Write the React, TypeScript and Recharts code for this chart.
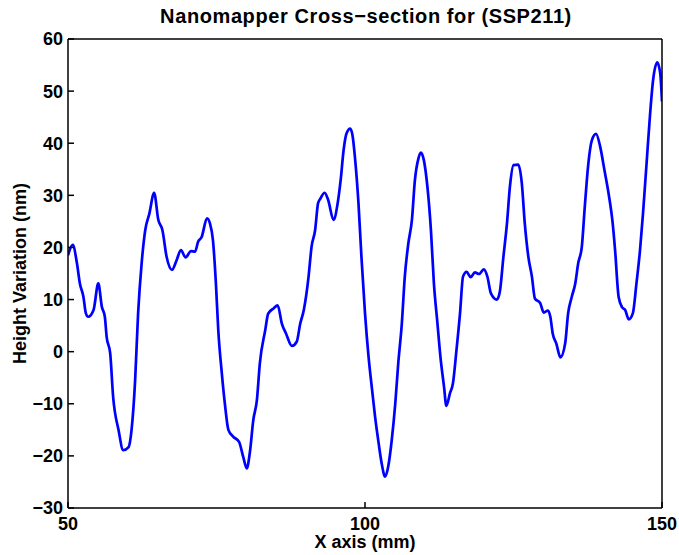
import { LineChart, Line, XAxis, YAxis } from "recharts"

// cross-section profile
const xPositions = [
  50, 50.8, 51.5, 52, 52.6, 53, 53.4, 54.3, 55.1, 55.7, 56.2, 56.5, 57.1, 57.6, 58.5, 59.3,
  60.2, 60.7, 61.3, 61.8, 62.4, 63, 63.7, 64.5, 65.2, 65.9, 66.6, 67.5, 68.3, 69, 69.8,
  70.7, 71.4, 71.9, 72.5, 73.4, 73.9, 74.4, 74.9, 75.3, 75.9, 76.4, 77, 77.8, 78.8, 79.5,
  80.1, 80.6, 81.2, 81.8, 82.3, 83.2, 83.7, 84.6, 85.3, 86, 86.7, 87.7, 88.5, 89.1, 89.7,
  90.5, 91, 91.6, 92.1, 92.5, 93.2, 93.8, 94.7, 95.4, 95.9, 96.4, 96.9, 97.5, 97.9, 98.3,
  98.9, 99.4, 100, 100.6, 101.2, 101.7, 102.3, 102.8, 103.4, 103.9, 104.5, 105.1, 105.6,
  106.2, 106.7, 107.3, 107.9, 108.4, 109, 109.4, 109.9, 110.5, 111.1, 111.6, 112.2, 112.7,
  113.3, 113.7, 114.3, 114.8, 115.4, 116, 116.5, 117.1, 117.8, 118.5, 119.2, 120, 120.6,
  121.2, 122.2, 122.7, 123.3, 123.9, 124.4, 125, 125.8, 126.4, 126.9, 127.5, 128.1, 128.6,
  129.5, 130.1, 130.8, 131.2, 131.6, 132.2, 132.9, 133.7, 134.2, 134.8, 135.4, 135.9, 136.5,
  137, 137.6, 138.2, 138.9, 139.6, 140.3, 141, 141.7, 142.1, 142.7, 143.3, 143.8, 144.4,
  145.1, 145.7, 146.3, 146.8, 147.4, 148, 148.5, 149.2, 149.7, 150,
]

const heights = [
  18.5, 20.5, 17, 13.1, 10.5, 7.4, 6.7, 8, 13.1, 8.6, 6.7, 2.9, -0.3, -8.7, -15, -18.9,
  -18.3, -15, -5.5, 7.3, 17, 23.3, 26.5, 30.5, 25.3, 23.3, 18.2, 15.7, 17.6, 19.5, 18.1,
  19.3, 19.2, 21.1, 22, 25.6, 24.6, 21.4, 13.1, 4.1, -4.2, -9.9, -15, -16.3, -17.3, -20.2,
  -22.4, -19.5, -13.1, -9.3, -2.2, 4.1, 7.3, 8.3, 8.9, 5.4, 3.5, 1.1, 1.9, 5.4, 8,
  14.4, 20.1, 23.3, 28.5, 29.4, 30.5, 29.1, 25.3, 28.5, 32.9, 38.7, 41.9, 42.8, 41.5, 37.4,
  28.5, 18.2, 7.4, -1, -7.4, -12.5, -17.6, -21.4, -24, -22.1, -17, -9.9, -2.2,
  5.4, 14.4, 20.8, 25.3, 32.9, 37.1, 38.2, 36.8, 31.7, 23.3, 13.1, 5.4, -1,
  -6.7, -10.4, -8, -6.1, 0.3, 7.4, 14.4, 15.3, 14.3, 15.2, 14.9, 15.8, 14.4,
  11.2, 10, 11.5, 18.2, 24.6, 31.7, 35.8, 35.9, 32.3, 24.6, 18.2, 14.4, 10.2,
  9.3, 7.5, 7.9, 6.7, 3.5, 1.6, -1.1, 1.6, 7.4, 10.5, 13.1, 17, 20.1,
  27.8, 36.1, 40.6, 41.8, 39.3, 34.9, 30.4, 24.6, 19.5, 10.5, 8.5, 8, 6.2,
  7.4, 13.1, 19.5, 26.5, 36.1, 45.7, 52.1, 55.5, 53.4, 48,
]

const xTicks = [50, 100, 150]
const yTicks = [-30, -20, -10, 0, 10, 20, 30, 40, 50, 60]

const data = xPositions.map((x, i) => ({ x, h: heights[i] }))

const font = "'Liberation Sans', Arial, Helvetica, sans-serif"
const textStyle = { fill: "#000", fontSize: 18, fontWeight: "bold", fontFamily: font }
const axisStroke = { stroke: "#000", strokeWidth: 1.5 }
const minus = (v: number) => String(v).replace("-", "\u2212")

export default function App() {
  return (
    <div style={{ position: "absolute", left: 0, top: 0, width: 679, height: 555, background: "#fff" }}>
      <div
        style={{
          position: "absolute",
          left: 366,
          top: 6,
          transform: "translateX(-50%)",
          whiteSpace: "nowrap",
          fontFamily: font,
          fontWeight: "bold",
          fontSize: 20,
          letterSpacing: 0.6,
          lineHeight: "20px",
          color: "#000",
        }}
      >
        Nanomapper Cross{"\u2212"}section for (SSP211)
      </div>
      <LineChart width={679} height={555} data={data} margin={{ top: 39, right: 17, bottom: 0, left: 0 }}>
        {/* labelled axes, ticks pushed inside the box */}
        <XAxis
          xAxisId="b"
          dataKey="x"
          type="number"
          domain={[50, 150]}
          allowDataOverflow
          ticks={xTicks}
          height={47}
          tickSize={6}
          tickMargin={3}
          tick={textStyle}
          axisLine={axisStroke}
          tickLine={{ ...axisStroke, transform: "translate(0,-6)" }}
          label={{ value: "X axis (mm)", position: "insideBottom", offset: 7, style: textStyle }}
        />
        <YAxis
          yAxisId="l"
          type="number"
          domain={[-30, 60]}
          allowDataOverflow
          ticks={yTicks}
          width={68}
          tickSize={6}
          tickMargin={-1}
          tick={textStyle}
          tickFormatter={minus}
          axisLine={axisStroke}
          tickLine={{ ...axisStroke, transform: "translate(6,0)" }}
          label={{
            value: "Height Variation (nm)",
            angle: -90,
            position: "insideLeft",
            offset: 20,
            style: { ...textStyle, textAnchor: "middle" },
          }}
        />
        {/* top and right edges of the box */}
        <XAxis
          xAxisId="t"
          orientation="top"
          mirror
          dataKey="x"
          type="number"
          domain={[50, 150]}
          allowDataOverflow
          ticks={xTicks}
          tickSize={6}
          tick={false}
          axisLine={axisStroke}
          tickLine={axisStroke}
        />
        <YAxis
          yAxisId="r"
          orientation="right"
          mirror
          type="number"
          domain={[-30, 60]}
          allowDataOverflow
          ticks={yTicks}
          tickSize={6}
          tick={false}
          axisLine={axisStroke}
          tickLine={axisStroke}
        />
        <Line
          xAxisId="b"
          yAxisId="l"
          dataKey="h"
          type="monotone"
          stroke="#0000ff"
          strokeWidth={2.7}
          dot={false}
          isAnimationActive={false}
        />
      </LineChart>
    </div>
  )
}
